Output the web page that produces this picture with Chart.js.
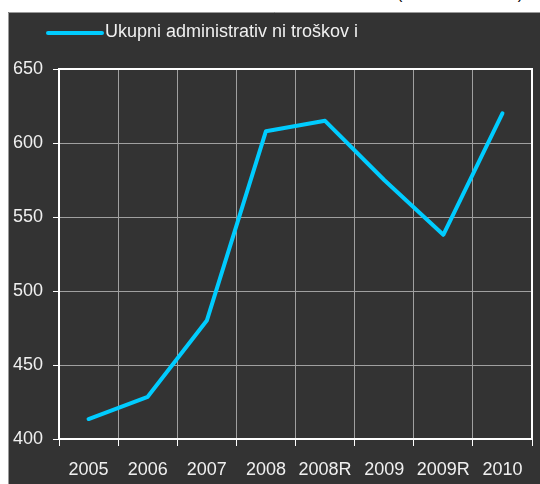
<!DOCTYPE html>
<html>
<head>
<meta charset="utf-8">
<script src="https://cdn.jsdelivr.net/npm/chart.js@4"></script>
<style>
  html, body { margin: 0; padding: 0; background: #fff; }
  #wrap { position: relative; width: 540px; height: 484px; overflow: hidden; }
  #unit { position: absolute; left: 397px; top: -15px; font: 16px "Liberation Sans", Arial, sans-serif; color: #000; white-space: nowrap; letter-spacing: 0.4px; }
  canvas { position: absolute; left: 0; top: 0; }
</style>
</head>
<body>
<div id="wrap">
  <div id="unit">(u milionima KM)</div>
  <canvas id="chart" width="540" height="484"></canvas>
</div>
<script>
// chart data
const years = ['2005', '2006', '2007', '2008', '2008R', '2009', '2009R', '2010'];
const troskovi = [413.5, 428.5, 480, 608, 615, 575, 538, 620];
const seriesLabel = 'Ukupni administrativ ni troškov i';
const yTicks = [400, 450, 500, 550, 600, 650];

const lineColor = '#00ccff';
const textColor = '#f0f0f0';
const fontFamily = '"Liberation Sans", Arial, sans-serif';

// dark panel behind the chart
const panelPlugin = {
    id: 'panel',
    beforeDraw(chart) {
        const ctx = chart.ctx;
        ctx.save();
        ctx.fillStyle = '#333333';
        ctx.fillRect(8, 12, chart.width, chart.height);
        ctx.strokeStyle = '#9a9a9a';
        ctx.lineWidth = 1;
        ctx.beginPath();
        ctx.moveTo(8.5, chart.height);
        ctx.lineTo(8.5, 12.5);
        ctx.lineTo(chart.width, 12.5);
        ctx.stroke();
        ctx.restore();
    },
    afterDatasetsDraw(chart) {
        // white frame round plot area
        const a = chart.chartArea;
        const ctx = chart.ctx;
        ctx.save();
        ctx.strokeStyle = '#ffffff';
        ctx.lineWidth = 2;
        ctx.strokeRect(a.left, a.top, a.right - a.left, a.bottom - a.top);
        ctx.restore();
    },
    afterDraw(chart) {
        // legend: line sample + label
        const ds = chart.data.datasets[0];
        const ctx = chart.ctx;
        ctx.save();
        ctx.strokeStyle = ds.borderColor;
        ctx.lineWidth = 4;
        ctx.lineCap = 'round';
        ctx.beginPath();
        ctx.moveTo(48, 33);
        ctx.lineTo(102, 33);
        ctx.stroke();
        ctx.fillStyle = textColor;
        ctx.font = '18px ' + fontFamily;
        ctx.textBaseline = 'middle';
        ctx.fillText(ds.label, 105, 32);
        ctx.restore();
    }
};

const ctx = document.getElementById('chart').getContext('2d');
new Chart(ctx, {
    type: 'line',
    data: {
        labels: years,
        datasets: [
            {
                label: seriesLabel,
                data: troskovi,
                borderColor: lineColor,
                backgroundColor: lineColor,
                borderWidth: 4,
                borderCapStyle: 'round',
                borderJoinStyle: 'round',
                pointRadius: 0,
                fill: false,
                tension: 0
            }
        ]
    },
    options: {
        responsive: false,
        animation: false,
        layout: {
            padding: { top: 69, right: 8, left: 0, bottom: 0 }
        },
        plugins: {
            legend: { display: false },
            tooltip: { enabled: false }
        },
        scales: {
            x: {
                offset: true,
                grid: {
                    offset: true,
                    color: '#a0a0a0',
                    lineWidth: 1,
                    tickColor: '#ffffff',
                    tickLength: 7
                },
                border: { display: false },
                ticks: {
                    color: textColor,
                    padding: 13,
                    maxRotation: 0,
                    autoSkip: false,
                    font: { family: fontFamily, size: 18 }
                },
                afterFit(scale) { scale.height = 45; }
            },
            y: {
                min: 400,
                max: 650,
                afterBuildTicks(scale) {
                    scale.ticks = yTicks.map(v => ({ value: v }));
                },
                grid: {
                    color: '#a0a0a0',
                    lineWidth: 1,
                    tickColor: '#ffffff',
                    tickLength: 6
                },
                border: { display: false },
                ticks: {
                    color: textColor,
                    padding: 10,
                    font: { family: fontFamily, size: 18 }
                },
                afterFit(scale) { scale.width = 59; }
            }
        }
    },
    plugins: [panelPlugin]
});
</script>
</body>
</html>
